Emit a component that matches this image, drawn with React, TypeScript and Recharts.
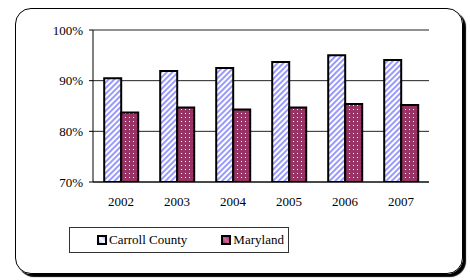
import { BarChart, Bar, XAxis, YAxis, CartesianGrid } from 'recharts';

const years = ['2002', '2003', '2004', '2005', '2006', '2007'];
const carrollCounty = [90.5, 91.9, 92.5, 93.7, 95.0, 94.1];
const maryland = [83.7, 84.7, 84.3, 84.7, 85.4, 85.2];
const yTicks = [70, 80, 90, 100];
const boundaryTicks = [0, 1, 2, 3, 4, 5, 6];

const data = years.map((year, i) => ({
  year,
  carroll: carrollCounty[i],
  maryland: maryland[i],
}));

const font = '"Liberation Serif", "Times New Roman", serif';

function Patterns() {
  return (
    <defs>
      <pattern id="stripes" width="4" height="4" patternUnits="userSpaceOnUse" patternTransform="rotate(45)">
        <rect width="4" height="4" fill="#ffffff" />
        <rect width="2" height="4" fill="#9999ff" />
      </pattern>
      <pattern id="dots" width="4" height="4" patternUnits="userSpaceOnUse">
        <rect width="4" height="4" fill="#993366" />
        <rect x="1" y="1" width="1" height="1" fill="#ffffff" />
      </pattern>
    </defs>
  );
}

function Swatch({ fill }: { fill: string }) {
  return (
    <svg width="10" height="10" style={{ marginRight: 2 }}>
      <defs>
        <linearGradient id={`sw-${fill}`} x1="0" y1="1" x2="1" y2="0">
          <stop offset="0" stopColor={fill === 'carroll' ? '#9999ff' : '#993366'} />
          <stop offset="0.5" stopColor={fill === 'carroll' ? '#ffffff' : '#cc6699'} />
          <stop offset="1" stopColor={fill === 'carroll' ? '#9999ff' : '#993366'} />
        </linearGradient>
      </defs>
      <rect x="1" y="1" width="8" height="8" fill={`url(#sw-${fill})`} stroke="#000" strokeWidth="2" />
    </svg>
  );
}

export default function App() {
  return (
    <div style={{ position: 'absolute', left: 0, top: 0, width: 470, height: 280, background: '#fff' }}>
      <div
        style={{
          position: 'absolute',
          left: 15,
          top: 8,
          width: 446,
          height: 264,
          border: '1px solid #000',
          borderRadius: 16,
          boxShadow: '3px 3px 1px #000',
        }}
      />
      <div style={{ position: 'absolute', left: 0, top: 0 }}>
        <BarChart
          width={470}
          height={280}
          data={data}
          margin={{ top: 30, right: 41, left: 0, bottom: 0 }}
          barCategoryGap="20%"
          barGap={0}
        >
          <Patterns />
          <CartesianGrid vertical={false} stroke="#222" strokeWidth={1} />
          <XAxis
            xAxisId="bounds"
            type="number"
            domain={[0, 6]}
            ticks={boundaryTicks}
            tick={false}
            axisLine={false}
            tickLine={{ stroke: '#000' }}
            tickSize={5}
            height={0}
          />
          <XAxis
            dataKey="year"
            axisLine={{ stroke: '#000' }}
            tickLine={false}
            tickSize={0}
            tickMargin={15}
            height={98}
            tick={{ fontSize: 13, fill: '#000', fontFamily: font }}
          />
          <YAxis
            width={93}
            domain={[70, 100]}
            ticks={yTicks}
            allowDataOverflow
            tickFormatter={(v: number) => `${v}%`}
            axisLine={{ stroke: '#000' }}
            tickLine={{ stroke: '#000' }}
            tickSize={4}
            tickMargin={6}
            tick={{ fontSize: 13, fill: '#000', fontFamily: font }}
          />
          <Bar dataKey="carroll" fill="url(#stripes)" stroke="#000" strokeWidth={2} isAnimationActive={false} />
          <Bar dataKey="maryland" fill="url(#dots)" stroke="#000" strokeWidth={2} isAnimationActive={false} />
        </BarChart>
      </div>
      <div
        style={{
          position: 'absolute',
          left: 69,
          top: 227,
          width: 218,
          height: 24,
          border: '1px solid #333',
          fontFamily: font,
          fontSize: 13,
          color: '#000',
          display: 'flex',
          alignItems: 'center',
        }}
      >
        <span style={{ display: 'flex', alignItems: 'center', marginLeft: 27 }}>
          <Swatch fill="carroll" />
          Carroll County
        </span>
        <span style={{ display: 'flex', alignItems: 'center', marginLeft: 34 }}>
          <Swatch fill="maryland" />
          Maryland
        </span>
      </div>
    </div>
  );
}
